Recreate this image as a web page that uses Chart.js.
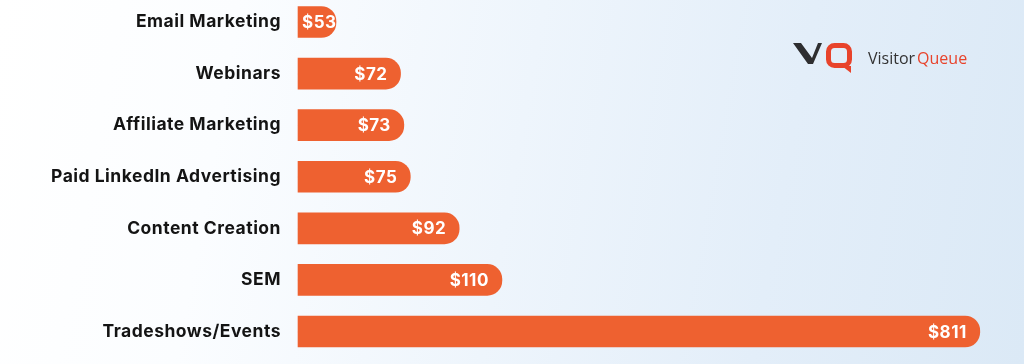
<!DOCTYPE html>
<html>
<head>
<meta charset="utf-8">
<title>Cost per lead by channel</title>
<script src="https://cdn.jsdelivr.net/npm/chart.js@4.4.1/dist/chart.umd.min.js"></script>
<style>
  html, body {
    margin: 0;
    padding: 0;
  }
  body {
    width: 1024px;
    height: 364px;
    overflow: hidden;
    background: linear-gradient(100deg, #ffffff 0%, #fbfdff 22%, #eef5fc 50%, #e3eef9 75%, #dbe9f6 100%);
  }
  #wrap {
    position: relative;
    width: 1024px;
    height: 364px;
  }
</style>
</head>
<body>
<div id="wrap">
  <canvas id="myChart" width="1024" height="364"></canvas>
</div>
<script>
const channels = [
    'Email Marketing',
    'Webinars',
    'Affiliate Marketing',
    'Paid LinkedIn Advertising',
    'Content Creation',
    'SEM',
    'Tradeshows/Events'
];
const costs = [53, 72, 73, 75, 92, 110, 811];

const barColor = '#ee6130';

// a little tracking to get closer to the wide original typeface
const tracking = {
    id: 'tracking',
    beforeDraw(chart) {
        chart.ctx.letterSpacing = '0.5px';
    }
};

// white "$xx" labels inside the end of each bar
const valueLabels = {
    id: 'valueLabels',
    afterDatasetsDraw(chart) {
        const ctx = chart.ctx;
        const meta = chart.getDatasetMeta(0);
        ctx.save();
        ctx.font = '700 17px Inter';
        ctx.fillStyle = '#ffffff';
        ctx.textAlign = 'right';
        ctx.textBaseline = 'middle';
        meta.data.forEach((bar, i) => {
            const txt = '$' + costs[i];
            const w = ctx.measureText(txt).width;
            const x = Math.max(bar.base + 4 + w, bar.x - 13);
            ctx.fillText(txt, x, bar.y + 1);
        });
        ctx.restore();
    }
};

// VisitorQueue logo, top right
const logo = {
    id: 'logo',
    afterDraw(chart) {
        const ctx = chart.ctx;
        ctx.save();
        ctx.letterSpacing = '0px';
        // V
        ctx.fillStyle = '#2e2e30';
        ctx.beginPath();
        ctx.moveTo(793, 43);
        ctx.lineTo(801, 43);
        ctx.lineTo(812, 58);
        ctx.lineTo(818, 43);
        ctx.lineTo(822, 43);
        ctx.lineTo(813, 64);
        ctx.lineTo(808, 64);
        ctx.closePath();
        ctx.fill();
        // Q
        ctx.strokeStyle = '#e8432b';
        ctx.lineWidth = 5;
        ctx.beginPath();
        ctx.roundRect(828.5, 45.5, 21, 20, 6);
        ctx.stroke();
        ctx.fillStyle = '#e8432b';
        ctx.beginPath();
        ctx.moveTo(842, 66);
        ctx.lineTo(851, 66);
        ctx.lineTo(851, 73);
        ctx.closePath();
        ctx.fill();
        // wordmark
        ctx.font = '400 16px "Open Sans"';
        ctx.textBaseline = 'alphabetic';
        ctx.textAlign = 'left';
        ctx.fillStyle = '#333333';
        ctx.fillText('Visitor', 868, 64);
        const w = ctx.measureText('Visitor').width;
        ctx.fillStyle = '#e8432b';
        ctx.fillText('Queue', 868 + w + 2, 64);
        ctx.restore();
    }
};

const ctx = document.getElementById('myChart').getContext('2d');
new Chart(ctx, {
    type: 'bar',
    data: {
        labels: channels,
        datasets: [
            {
                label: 'Cost per lead',
                data: costs,
                backgroundColor: barColor,
                borderWidth: 0,
                borderRadius: 15,
                barThickness: 31,
                minBarLength: 38,
                clip: false
            }
        ]
    },
    options: {
        indexAxis: 'y',
        responsive: false,
        animation: false,
        layout: {
            padding: { top: 22, bottom: 32.5, left: 0, right: 0 }
        },
        plugins: {
            legend: { display: false },
            tooltip: { enabled: false }
        },
        scales: {
            x: {
                type: 'logarithmic',
                min: 46.9,
                max: 975.6,
                bounds: 'data',
                display: false
            },
            y: {
                offset: false,
                afterFit: scale => {
                    scale.width = 298;
                    scale.paddingTop = 0;
                    scale.paddingBottom = 0;
                },
                grid: { display: false, drawTicks: false },
                border: { display: false },
                ticks: {
                    padding: 17,
                    color: '#141414',
                    font: { family: 'Inter', size: 17.5, weight: '700' }
                }
            }
        }
    },
    plugins: [tracking, valueLabels, logo]
});
</script>
</body>
</html>
